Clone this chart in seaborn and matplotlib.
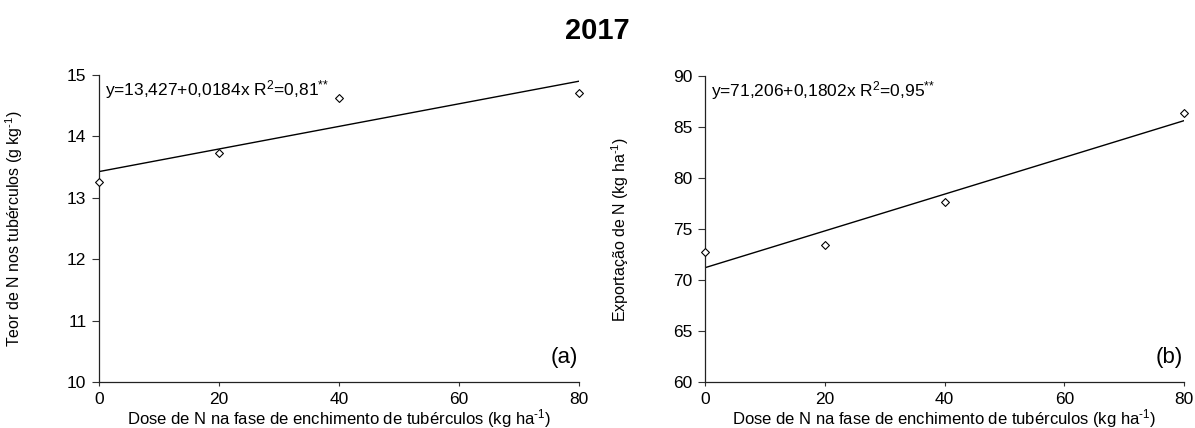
import numpy as np
import pandas as pd
import matplotlib
matplotlib.use("Agg")
import matplotlib.pyplot as plt
import seaborn as sns

# Data
dose = [0, 20, 40, 80]
teor_n = [13.25, 13.73, 14.62, 14.70]
export_n = [72.7, 73.4, 77.6, 86.4]

# fitted equations shown in the panels
coef_a = [13.427, 0.0184]
coef_b = [71.206, 0.1802]
eq_a = "y=13,427+0,0184x R$^2$=0,81$^{\\text{**}}$"
eq_b = "y=71,206+0,1802x R$^2$=0,95$^{\\text{**}}$"

sns.set_theme(style="ticks")
plt.rcParams['font.family'] = ['Liberation Sans', 'DejaVu Sans']
plt.rcParams['mathtext.fontset'] = 'custom'
plt.rcParams['mathtext.rm'] = 'Liberation Sans'
plt.rcParams['mathtext.it'] = 'Liberation Sans'
plt.rcParams['mathtext.bf'] = 'Liberation Sans:bold'
for k in ['text.color', 'axes.labelcolor', 'xtick.color', 'ytick.color']:
    plt.rcParams[k] = 'black'

fig = plt.figure(figsize=(11.95, 4.28), dpi=100)
ax1 = fig.add_axes([99 / 1195, 1 - 382 / 428, 480 / 1195, 307 / 428])
ax2 = fig.add_axes([705 / 1195, 1 - 382 / 428, 479 / 1195, 306 / 428])

sup = "$^{\\text{-1}}$"
panels = [
    (ax1, teor_n, coef_a, eq_a, "(a)", (10, 15), [10, 11, 12, 13, 14, 15],
     "Teor de N nos tubérculos (g kg" + sup + ")"),
    (ax2, export_n, coef_b, eq_b, "(b)", (60, 90), [60, 65, 70, 75, 80, 85, 90],
     "Exportação de N (kg ha" + sup + ")"),
]

xfit = np.array([dose[0], dose[-1]])
for ax, yvals, coef, eq, tag, ylim, yticks, ylab in panels:
    df = pd.DataFrame({'dose': dose, 'y': yvals})
    fit = pd.DataFrame({'dose': xfit, 'y': coef[0] + coef[1] * xfit})
    sns.lineplot(data=fit, x='dose', y='y', ax=ax, color='black', linewidth=1)
    sns.scatterplot(data=df, x='dose', y='y', ax=ax, marker='D', s=16,
                    facecolor='white', edgecolor='black', linewidth=0.8,
                    zorder=3, clip_on=False)
    ax.set_xlim(0, 80)
    ax.set_ylim(*ylim)
    ax.set_xticks([0, 20, 40, 60, 80])
    ax.set_yticks(yticks)
    ax.tick_params(labelsize=12.5, width=0.8, color='#333333', pad=4)
    ax.tick_params(axis='y', length=5)
    ax.tick_params(axis='x', length=3)
    for s in ['left', 'bottom']:
        ax.spines[s].set_linewidth(0.9)
        ax.spines[s].set_color('#222222')
    sns.despine(ax=ax)
    ax.set_xlabel("Dose de N na fase de enchimento de tubérculos (kg ha" + sup + ")",
                  fontsize=12, labelpad=0)
    ax.set_ylabel(ylab, fontsize=11.5)
    ax.yaxis.set_label_coords(-0.154, 0.5)
    ax.text(0.0125, 0.951, eq, transform=ax.transAxes, fontsize=12.5,
            ha='left', va='center')
    ax.text(0.998, 0.08, tag, transform=ax.transAxes, fontsize=16,
            ha='right', va='center')

fig.text(0.5, 0.928, "2017", ha='center', va='center', fontsize=21,
         fontweight='bold')

fig.savefig("out.png", dpi=100)
